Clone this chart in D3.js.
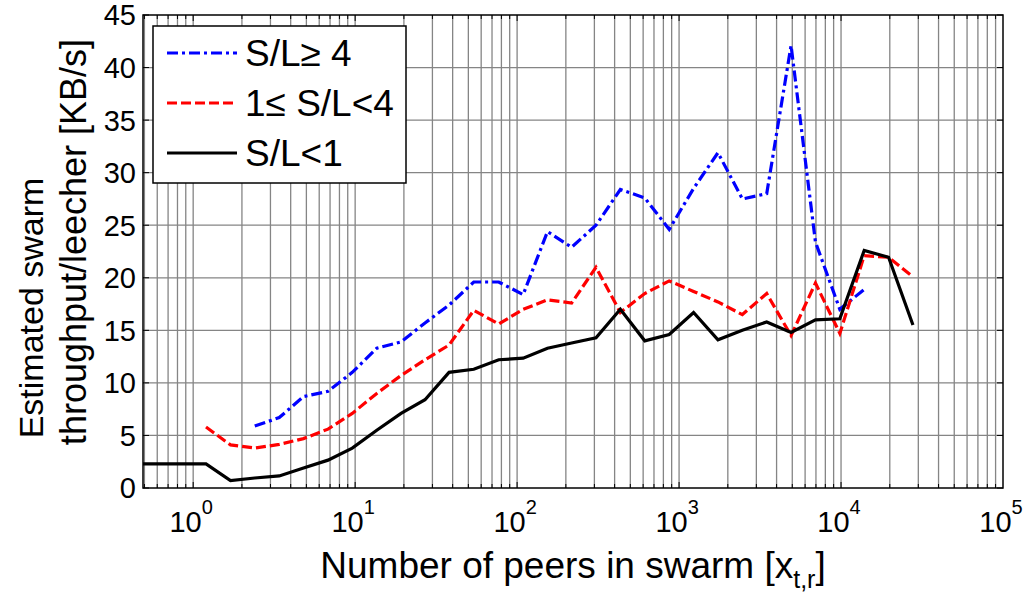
<!DOCTYPE html>
<html>
<head>
<meta charset="utf-8">
<script src="https://cdn.jsdelivr.net/npm/d3@7"></script>
<style>
  body { margin: 0; background: #fff; }
  text { font-family: "Liberation Sans", Arial, sans-serif; fill: #000; }
</style>
</head>
<body>
<div id="my_dataviz"></div>
<script>
// number of peers in swarm (log spaced bins)
var peers = [0.42, 0.6, 0.85, 1.2, 1.7, 2.4, 3.4, 4.8, 6.8, 9.6, 13.6, 19.2, 27, 38, 54, 77, 109,
  154, 217, 307, 434, 614, 869, 1229, 1738, 2458, 3476, 4915, 6951, 9830, 13900, 19660, 27800];

// throughput per leecher [KB/s], one value per bin (null = no data)
var highRatio = [null, null, null, null, null, 5.9, 6.7, 8.7, 9.2, 11.0, 13.3, 13.9, 15.7, 17.4, 19.6,
  19.6, 18.4, 24.4, 22.9, 25.0, 28.4, 27.6, 24.6, 28.5, 31.9, 27.5, 28.0, 42.1, 23.4, 17.0, 18.9, null, null];
var midRatio = [null, null, null, 5.8, 4.1, 3.8, 4.15, 4.7, 5.6, 7.1, 9.0, 10.7, 12.2, 13.6, 16.9,
  15.6, 17.0, 17.9, 17.6, 21.0, 16.7, 18.5, 19.7, 18.7, 17.7, 16.5, 18.5, 14.5, 19.5, 14.7, 22.1, 21.95, 20.1];
var lowRatio = [2.3, 2.3, 2.3, 2.3, 0.7, 0.95, 1.15, 1.9, 2.65, 3.8, 5.5, 7.1, 8.4, 11.0, 11.3,
  12.2, 12.35, 13.3, 13.8, 14.3, 17.0, 14.0, 14.6, 16.7, 14.1, 15.0, 15.8, 14.8, 16.0, 16.1, 22.6, 21.95, 15.5];

var seriesNames = ["S/L\u2265 4", "1\u2264 S/L<4", "S/L<1"];
var yTicks = [0, 5, 10, 15, 20, 25, 30, 35, 40, 45];
var xMajor = [0, 1, 2, 3, 4, 5]; // exponents

var W = 1024, H = 593;
var plot = {left: 143, right: 1003, top: 15, bottom: 488};

var svg = d3.select("#my_dataviz")
  .append("svg")
    .attr("width", W)
    .attr("height", H);

svg.append("rect").attr("width", W).attr("height", H).attr("fill", "#fff");

var x = d3.scaleLog()
  .domain([0.49, 1e5])
  .range([plot.left, plot.right]);

var y = d3.scaleLinear()
  .domain([0, 45])
  .range([plot.bottom, plot.top]);

// minor values for the grid
var xMinor = [];
[-1, 0, 1, 2, 3, 4].forEach(function(e) {
  for (var m = 1; m < 10; m++) {
    var v = m * Math.pow(10, e);
    if (v > x.domain()[0] && v < x.domain()[1]) xMinor.push(v);
  }
});

// grid
svg.append("g")
  .selectAll("line")
  .data(xMinor)
  .enter()
  .append("line")
    .attr("x1", function(d) { return x(d); })
    .attr("x2", function(d) { return x(d); })
    .attr("y1", plot.top)
    .attr("y2", plot.bottom)
    .attr("stroke", "#858585")
    .attr("stroke-width", 1.3);

svg.append("g")
  .selectAll("line")
  .data(yTicks.slice(1, -1))
  .enter()
  .append("line")
    .attr("x1", plot.left)
    .attr("x2", plot.right)
    .attr("y1", function(d) { return y(d); })
    .attr("y2", function(d) { return y(d); })
    .attr("stroke", "#858585")
    .attr("stroke-width", 1.3);

// inner ticks on all four sides
var tickG = svg.append("g").attr("stroke", "#000").attr("stroke-width", 1);
xMinor.forEach(function(d) {
  var len = (Math.abs(Math.log10(d) - Math.round(Math.log10(d))) < 1e-9) ? 6 : 4;
  tickG.append("line").attr("x1", x(d)).attr("x2", x(d)).attr("y1", plot.bottom).attr("y2", plot.bottom - len);
  tickG.append("line").attr("x1", x(d)).attr("x2", x(d)).attr("y1", plot.top).attr("y2", plot.top + len);
});
yTicks.forEach(function(d) {
  tickG.append("line").attr("x1", plot.left).attr("x2", plot.left + 6).attr("y1", y(d)).attr("y2", y(d));
  tickG.append("line").attr("x1", plot.right).attr("x2", plot.right - 6).attr("y1", y(d)).attr("y2", y(d));
});

// clip for the lines
svg.append("clipPath").attr("id", "clip")
  .append("rect")
    .attr("x", plot.left).attr("y", plot.top)
    .attr("width", plot.right - plot.left).attr("height", plot.bottom - plot.top);

var line = d3.line()
  .defined(function(d) { return d.v !== null; })
  .x(function(d) { return x(d.p); })
  .y(function(d) { return y(d.v); });

function toPoints(vals) {
  return vals.map(function(v, i) { return {p: peers[i], v: v}; });
}

var styles = [
  {data: highRatio, color: "#0000ff", dash: "11,4,3,4"},
  {data: midRatio, color: "#ff0000", dash: "10,4"},
  {data: lowRatio, color: "#000000", dash: null}
];

styles.forEach(function(s) {
  svg.append("path")
    .datum(toPoints(s.data))
    .attr("clip-path", "url(#clip)")
    .attr("fill", "none")
    .attr("stroke", s.color)
    .attr("stroke-width", 3.2)
    .attr("stroke-linejoin", "miter")
    .attr("stroke-dasharray", s.dash)
    .attr("d", line);
});

// axes box
svg.append("rect")
  .attr("x", plot.left).attr("y", plot.top)
  .attr("width", plot.right - plot.left).attr("height", plot.bottom - plot.top)
  .attr("fill", "none")
  .attr("stroke", "#000")
  .attr("stroke-width", 1.5);

// y tick labels
svg.append("g")
  .selectAll("text")
  .data(yTicks)
  .enter()
  .append("text")
    .attr("x", 136)
    .attr("y", function(d) { return y(d); })
    .attr("dy", "0.36em")
    .attr("text-anchor", "end")
    .style("font-size", "29px")
    .text(function(d) { return d; });

// x tick labels 10^n
xMajor.forEach(function(e) {
  var t = svg.append("text")
    .attr("x", x(Math.pow(10, e)) - 2)
    .attr("y", 532)
    .attr("text-anchor", "middle")
    .style("font-size", "29px");
  t.append("tspan").text("10");
  t.append("tspan").attr("dy", -18).style("font-size", "20px").text(e);
});

// x axis label
var xl = svg.append("text")
  .attr("x", (plot.left + plot.right) / 2)
  .attr("y", 578)
  .attr("text-anchor", "middle")
  .style("font-size", "37px");
xl.append("tspan").text("Number of peers in swarm [x");
xl.append("tspan").attr("dy", 10).style("font-size", "25px").text("t,r");
xl.append("tspan").attr("dy", -10).text("]");

// y axis label (two lines)
svg.append("text")
  .attr("transform", "translate(43," + 308 + ") rotate(-90)")
  .attr("text-anchor", "middle")
  .style("font-size", "34px")
  .text("Estimated swarm");
svg.append("text")
  .attr("transform", "translate(86," + 242 + ") rotate(-90)")
  .attr("text-anchor", "middle")
  .style("font-size", "36px")
  .text("throughput/leecher [KB/s]");

// legend
var legend = svg.append("g");
legend.append("rect")
  .attr("x", 153).attr("y", 26)
  .attr("width", 253).attr("height", 157)
  .attr("fill", "#fff")
  .attr("stroke", "#000")
  .attr("stroke-width", 1.5);

styles.forEach(function(s, i) {
  var ly = 53 + i * 50;
  legend.append("line")
    .attr("x1", 167).attr("x2", 237)
    .attr("y1", ly).attr("y2", ly)
    .attr("stroke", s.color)
    .attr("stroke-width", 3.2)
    .attr("stroke-dasharray", s.dash);
  legend.append("text")
    .attr("x", 245)
    .attr("y", ly + 13)
    .style("font-size", "37px")
    .text(seriesNames[i]);
});
</script>
</body>
</html>
